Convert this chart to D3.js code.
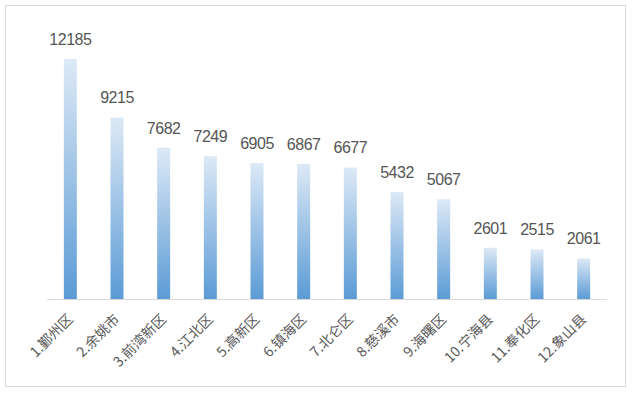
<!DOCTYPE html>
<html><head><meta charset="utf-8">
<script src="https://cdn.jsdelivr.net/npm/d3@7"></script>
<style>html,body{margin:0;padding:0;background:#fff;}svg{display:block;}</style>
</head><body>
<svg id="c" width="632" height="393"></svg>
<script>
const categories = ["1.鄞州区","2.余姚市","3.前湾新区","4.江北区","5.高新区","6.镇海区","7.北仑区","8.慈溪市","9.海曙区","10.宁海县","11.奉化区","12.象山县"];
const values = [12185, 9215, 7682, 7249, 6905, 6867, 6677, 5432, 5067, 2601, 2515, 2061];

const svg = d3.select("#c");
svg.append("rect").attr("x",5.5).attr("y",5.5).attr("width",620).attr("height",381)
  .attr("fill","#fff").attr("stroke","#d9d9d9").attr("stroke-width",1);

const defs = svg.append("defs");
const grad = defs.append("linearGradient").attr("id","g").attr("x1",0).attr("y1",0).attr("x2",0).attr("y2",1);
grad.append("stop").attr("offset","0%").attr("stop-color","#dde9f6");
grad.append("stop").attr("offset","100%").attr("stop-color","#5b9bd5");

const x = d3.scaleBand().domain(categories).range([47, 607]).paddingInner(0).paddingOuter(0);
const y = d3.scaleLinear().domain([0, 12185]).range([299, 59]);
const bw = 13;

svg.selectAll("rect.bar").data(values).enter().append("rect").attr("class","bar")
  .attr("x",(d,i)=>x(categories[i]) + x.bandwidth()/2 - bw/2)
  .attr("y",d=>y(d)).attr("width",bw).attr("height",d=>y(0)-y(d))
  .attr("fill","url(#g)");

svg.append("line").attr("x1",47).attr("x2",607).attr("y1",299.5).attr("y2",299.5)
  .attr("stroke","#d9d9d9").attr("stroke-width",1);

svg.selectAll("text.val").data(values).enter().append("text").attr("class","val")
  .attr("x",(d,i)=>x(categories[i]) + x.bandwidth()/2)
  .attr("y",d=>y(d)-14)
  .attr("text-anchor","middle")
  .attr("font-family","'Liberation Sans', Arial, sans-serif")
  .attr("font-size",16).attr("letter-spacing","-0.5px").attr("fill","#555555")
  .text(d=>d);

svg.selectAll("text.cat").data(categories).enter().append("text").attr("class","cat")
  .attr("transform",(d)=>`translate(${x(d)+x.bandwidth()/2+3.5},${320}) rotate(-45)`)
  .attr("text-anchor","end")
  .attr("font-family","'Noto Sans CJK SC', sans-serif")
  .attr("font-size",14).attr("fill","#595959")
  .text(d=>d);
</script>
</body></html>
